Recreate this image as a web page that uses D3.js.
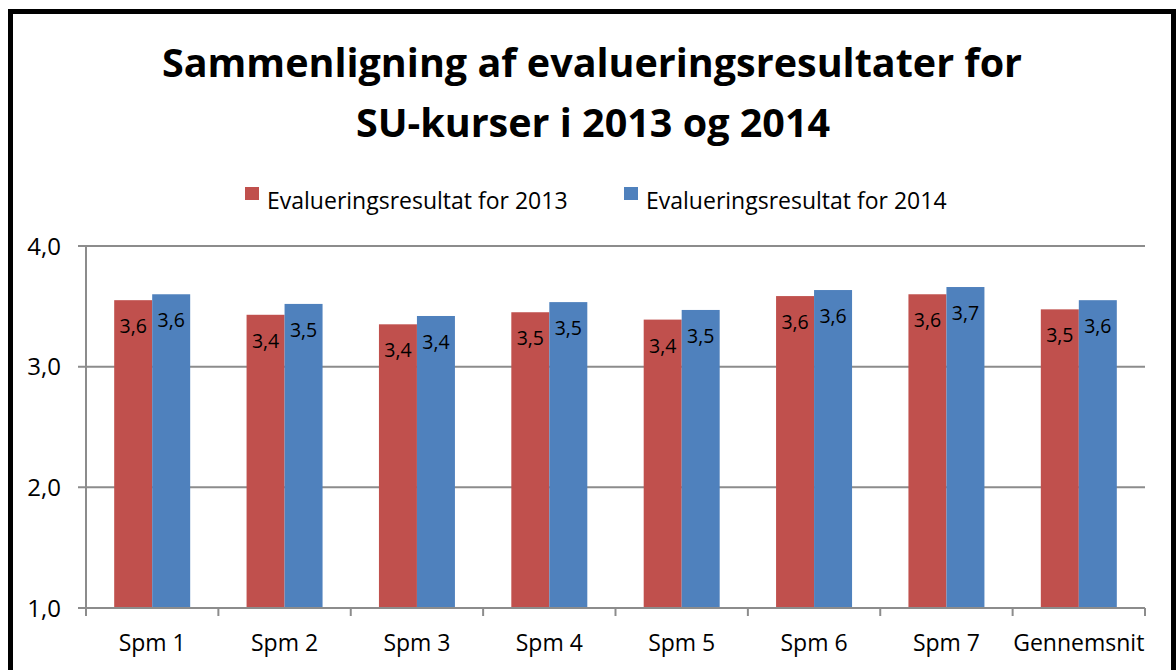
<!DOCTYPE html>
<html>
<head>
<meta charset="utf-8">
<script src="https://cdn.jsdelivr.net/npm/d3@7"></script>
<style>
  body { margin: 0; background: #fff; }
  svg text { font-family: "Open Sans", sans-serif; fill: #000; }
</style>
</head>
<body>
<div id="chart"></div>
<script>
// chart data
const categories = ["Spm 1", "Spm 2", "Spm 3", "Spm 4", "Spm 5", "Spm 6", "Spm 7", "Gennemsnit"];
const values2013 = [3.551, 3.43, 3.351, 3.451, 3.39, 3.585, 3.60, 3.475];
const values2014 = [3.60, 3.52, 3.42, 3.535, 3.47, 3.635, 3.66, 3.551];
const seriesNames = ["Evalueringsresultat for 2013", "Evalueringsresultat for 2014"];
const yTicks = [1, 2, 3, 4];

const width = 1176;
const height = 670;
const plot = {left: 86, right: 1145, top: 246, bottom: 608};
const colors = ["#C0504D", "#4F81BD"];

const svg = d3.select("#chart")
  .append("svg")
  .attr("width", width)
  .attr("height", height);

// outer frame
svg.append("rect")
  .attr("x", 10.5).attr("y", 11.5)
  .attr("width", 1163).attr("height", 700)
  .attr("fill", "#fff")
  .attr("stroke", "#000")
  .attr("stroke-width", 5);

// title
svg.append("text")
  .attr("x", 592).attr("y", 77)
  .attr("text-anchor", "middle")
  .attr("font-size", 39.5).attr("font-weight", "bold")
  .text("Sammenligning af evalueringsresultater for");
svg.append("text")
  .attr("x", 593).attr("y", 137)
  .attr("text-anchor", "middle")
  .attr("font-size", 39.5).attr("font-weight", "bold")
  .text("SU-kurser i 2013 og 2014");

// legend
const legendX = [245, 624];
seriesNames.forEach((name, i) => {
  svg.append("rect")
    .attr("x", legendX[i]).attr("y", 187)
    .attr("width", 14).attr("height", 13)
    .attr("fill", colors[i]);
  svg.append("text")
    .attr("x", legendX[i] + 22).attr("y", 209)
    .attr("font-size", 23)
    .text(name);
});

// scales
const yScale = d3.scaleLinear()
  .domain([1, 4])
  .range([plot.bottom, plot.top]);

const xScale = d3.scaleBand()
  .domain(categories)
  .range([plot.left, plot.right])
  .padding(0);

const xInner = d3.scaleBand()
  .domain([0, 1])
  .range([0, xScale.bandwidth()])
  .paddingInner(0)
  .paddingOuter(0.742);

const fmt = d3.formatLocale({decimal: ",", thousands: ".", grouping: [3], currency: ["", " kr"]}).format(".1f");

// gridlines
svg.append("g")
  .selectAll("line")
  .data(yTicks)
  .join("line")
  .attr("x1", plot.left - 8)
  .attr("x2", plot.right)
  .attr("y1", d => yScale(d))
  .attr("y2", d => yScale(d))
  .attr("stroke", "#8c8c8c")
  .attr("stroke-width", 2);

// y axis line + labels
svg.append("line")
  .attr("x1", plot.left).attr("x2", plot.left)
  .attr("y1", plot.top).attr("y2", plot.bottom)
  .attr("stroke", "#8c8c8c").attr("stroke-width", 2);

svg.append("g")
  .selectAll("text")
  .data(yTicks)
  .join("text")
  .attr("x", 61)
  .attr("y", d => yScale(d))
  .attr("dy", "0.36em")
  .attr("text-anchor", "end")
  .attr("font-size", 24)
  .text(d => fmt(d));

// bars
const series = [values2013, values2014];
series.forEach((vals, s) => {
  const g = svg.append("g");
  g.selectAll("rect")
    .data(vals)
    .join("rect")
    .attr("x", (d, i) => xScale(categories[i]) + xInner(s))
    .attr("y", d => yScale(d))
    .attr("width", xInner.bandwidth())
    .attr("height", d => yScale(1) - yScale(d))
    .attr("fill", colors[s]);
  g.selectAll("text")
    .data(vals)
    .join("text")
    .attr("x", (d, i) => xScale(categories[i]) + xInner(s) + xInner.bandwidth() / 2)
    .attr("y", d => yScale(d) + 33)
    .attr("text-anchor", "middle")
    .attr("font-size", 19.5)
    .text(d => fmt(d));
});

// x axis
svg.append("line")
  .attr("x1", plot.left).attr("x2", plot.right)
  .attr("y1", plot.bottom).attr("y2", plot.bottom)
  .attr("stroke", "#8c8c8c").attr("stroke-width", 2);

const tickPos = categories.map(c => xScale(c)).concat([plot.right]);
svg.append("g")
  .selectAll("line")
  .data(tickPos)
  .join("line")
  .attr("x1", d => d).attr("x2", d => d)
  .attr("y1", plot.bottom).attr("y2", plot.bottom + 8)
  .attr("stroke", "#8c8c8c").attr("stroke-width", 2);

svg.append("g")
  .selectAll("text")
  .data(categories)
  .join("text")
  .attr("x", d => xScale(d) + xScale.bandwidth() / 2)
  .attr("y", 651)
  .attr("text-anchor", "middle")
  .attr("font-size", 23)
  .text(d => d);
</script>
</body>
</html>
